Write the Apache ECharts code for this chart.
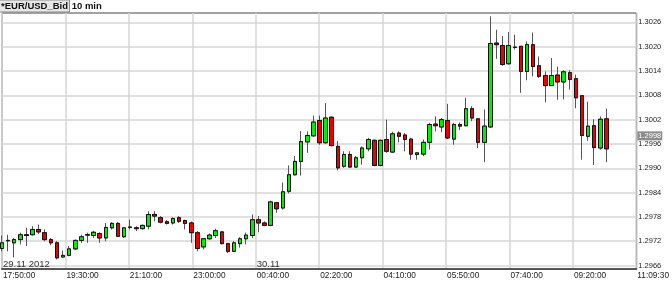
<!DOCTYPE html>
<html>
<head>
<meta charset="utf-8">
<script src="https://cdn.jsdelivr.net/npm/echarts@6/dist/echarts.min.js"></script>
<style>
html,body{margin:0;padding:0;background:#fff;}
#chart{width:672px;height:282px;}
</style>
</head>
<body>
<div id="chart"></div>
<script>
// ---- data (10 min candles, EUR/USD bid) ----
const openValues = [
1.29702,1.29721,1.29716,1.29724,1.29736,1.29736,1.29749,1.29741,1.29724,1.29716,
1.29681,1.29685,1.29701,1.29722,1.29735,1.29734,1.29739,1.29728,1.29753,1.29764,
1.29731,1.29754,1.29753,1.29751,1.29757,1.29786,1.29778,1.29768,1.29765,1.29778,
1.29771,1.29765,1.29741,1.29706,1.29726,1.29734,1.29743,1.29714,1.29695,1.29714,
1.29726,1.29734,1.29773,1.29765,1.29759,1.29815,1.29802,1.29843,1.29884,1.29917,
1.29965,1.29980,1.30018,1.29963,1.30026,1.29954,1.29905,1.29934,1.29903,1.29926,
1.29948,1.29969,1.29907,1.29971,1.29940,1.29987,1.29982,1.29972,1.29934,1.29935,
1.29964,1.30009,1.30002,1.30018,1.29972,1.30008,1.30005,1.30047,1.30022,1.29964,
1.30002,1.30209,1.30203,1.30158,1.30198,1.30201,1.30139,1.30205,1.30153,1.30129,
1.30104,1.30130,1.30113,1.30136,1.30121,1.30079,1.29979,1.30005,1.29950,1.30022];
const closeValues = [
1.29716,1.29722,1.29724,1.29736,1.29734,1.29749,1.29743,1.29724,1.29716,1.29679,
1.29685,1.29701,1.29722,1.29731,1.29736,1.29742,1.29728,1.29754,1.29764,1.29732,
1.29753,1.29755,1.29751,1.29759,1.29786,1.29782,1.29767,1.29764,1.29776,1.29769,
1.29764,1.29741,1.29702,1.29726,1.29735,1.29746,1.29714,1.29695,1.29716,1.29726,
1.29735,1.29773,1.29765,1.29759,1.29817,1.29800,1.29842,1.29884,1.29917,1.29966,
1.29981,1.30014,1.29963,1.30024,1.29956,1.29901,1.29934,1.29903,1.29926,1.29950,
1.29971,1.29907,1.29969,1.29942,1.29985,1.29979,1.29971,1.29935,1.29938,1.29964,
1.30008,1.30005,1.30020,1.29975,1.30008,1.30004,1.30047,1.30024,1.29964,1.30004,
1.30208,1.30205,1.30156,1.30203,1.30199,1.30139,1.30205,1.30151,1.30127,1.30104,
1.30129,1.30113,1.30138,1.30119,1.30074,1.29981,1.30004,1.29951,1.30021,1.29948];
const lowValues = [
1.29695,1.29695,1.29680,1.29712,1.29708,1.29734,1.29738,1.29720,1.29710,1.29675,
1.29679,1.29683,1.29698,1.29716,1.29716,1.29728,1.29716,1.29720,1.29749,1.29731,
1.29728,1.29749,1.29745,1.29749,1.29749,1.29769,1.29764,1.29761,1.29761,1.29765,
1.29749,1.29716,1.29695,1.29700,1.29724,1.29728,1.29712,1.29691,1.29693,1.29704,
1.29712,1.29728,1.29742,1.29757,1.29757,1.29790,1.29798,1.29838,1.29882,1.29882,
1.29938,1.29978,1.29958,1.29961,1.29954,1.29895,1.29901,1.29901,1.29901,1.29909,
1.29942,1.29905,1.29905,1.29938,1.29938,1.29964,1.29942,1.29921,1.29921,1.29930,
1.29946,1.29991,1.29989,1.29972,1.29958,1.29994,1.30004,1.30016,1.29950,1.29915,
1.30000,1.30170,1.30153,1.30156,1.30193,1.30086,1.30117,1.30127,1.30123,1.30063,
1.30104,1.30069,1.30070,1.30094,1.30048,1.29921,1.29968,1.29908,1.29946,1.29915];
const highValues = [
1.29734,1.29736,1.29728,1.29741,1.29753,1.29757,1.29761,1.29749,1.29728,1.29720,
1.29697,1.29708,1.29724,1.29736,1.29741,1.29745,1.29742,1.29765,1.29767,1.29767,
1.29755,1.29773,1.29757,1.29761,1.29794,1.29794,1.29782,1.29772,1.29779,1.29782,
1.29773,1.29769,1.29745,1.29728,1.29739,1.29751,1.29745,1.29716,1.29720,1.29730,
1.29741,1.29786,1.29782,1.29769,1.29820,1.29816,1.29865,1.29907,1.29930,1.29992,
1.29991,1.30030,1.30030,1.30061,1.30028,1.29967,1.29942,1.29942,1.29930,1.29954,
1.29975,1.29971,1.29971,1.30020,1.29990,1.29991,1.29987,1.29975,1.29939,1.29971,
1.30012,1.30028,1.30024,1.30059,1.30012,1.30013,1.30074,1.30053,1.30024,1.30045,
1.30275,1.30242,1.30226,1.30236,1.30230,1.30201,1.30213,1.30235,1.30176,1.30139,
1.30172,1.30151,1.30142,1.30142,1.30131,1.30079,1.30064,1.30021,1.30028,1.30047];
const timeTickLabels = ['17:50:00','19:30:00','21:10:00','23:00:00','00:40:00','02:20:00','04:10:00','05:50:00','07:40:00','09:20:00','11:09:30'];
const dateTickLabels = ['29.11 2012','','','','30.11','','','','','',''];
const priceTicks = [1.2966,1.2972,1.2978,1.2984,1.2990,1.2996,1.3002,1.3008,1.3014,1.3020,1.3026];
const priceMin = 1.296514, priceMax = 1.302832;
const lastPrice = 1.2998;
const titleSymbol = '*EUR/USD_Bid';
const titlePeriod = '10 min';

// ---- chart ----
const TICK_STEP = 10.39;            // bars between vertical grid lines
const X_MAX = TICK_STEP * 10;
const full = openValues.map((o, i) => [i, o, closeValues[i], lowValues[i], highValues[i]]);
const bodies = openValues.map((o, i) => [i, o, closeValues[i], Math.min(o, closeValues[i]), Math.max(o, closeValues[i])]);
const tickIdx = v => Math.round(v / TICK_STEP);
const FONT = 'Liberation Sans';

const chart = echarts.init(document.getElementById('chart'), null, {renderer: 'canvas'});
chart.setOption({
  animation: false,
  backgroundColor: '#ffffff',
  title: {
    left: 0, top: 0,
    padding: 0,
    text: '{a|' + titleSymbol + '}{b| ' + titlePeriod + '}',
    textStyle: {
      rich: {
        a: {fontFamily: FONT, fontSize: 9.5, fontWeight: 'bold', color: '#111', backgroundColor: '#e6e6e6',
            borderColor: '#8a8a8a', borderWidth: 1, padding: [1, 1, 0, 1], lineHeight: 12},
        b: {fontFamily: FONT, fontSize: 9.5, color: '#111', lineHeight: 12}
      }
    }
  },
  grid: {left: 1, top: 13, width: 640, height: 256, show: true, borderColor: '#444', borderWidth: 1},
  xAxis: [{
    type: 'value', min: 0, max: X_MAX, interval: TICK_STEP, position: 'bottom',
    axisLine: {show: true, onZero: false, lineStyle: {color: '#555', width: 2}},
    axisTick: {show: false},
    splitLine: {show: true, lineStyle: {color: '#d6d6d6', width: 1.5}},
    axisLabel: {
      show: true, align: 'left', margin: 3, fontFamily: FONT, fontSize: 8.3, color: '#222',
      padding: [0, 0, 0, 1], showMinLabel: true, showMaxLabel: true,
      formatter: v => timeTickLabels[tickIdx(v)] || ''
    }
  }, {
    type: 'value', min: 0, max: X_MAX, interval: TICK_STEP, position: 'bottom', offset: 0,
    axisLine: {show: false}, axisTick: {show: false}, splitLine: {show: false},
    axisLabel: {
      show: true, inside: true, align: 'left', margin: 0, fontFamily: FONT, fontSize: 9.5, color: '#333',
      padding: [0, 0, 0, 1], formatter: v => dateTickLabels[tickIdx(v)] || ''
    }
  }],
  yAxis: [{
    type: 'value', position: 'right', min: priceMin, max: priceMax,
    axisLine: {show: false},
    axisTick: {show: false, customValues: priceTicks},
    splitLine: {show: true, lineStyle: {color: '#d6d6d6', width: 1.5}},
    axisLabel: {
      customValues: priceTicks,
      margin: 2, fontFamily: FONT, fontSize: 7.5, color: '#222',
      verticalAlign: 'middle', padding: [0, 0, 6, 0],
      formatter: v => v.toFixed(4)
    }
  }, {
    type: 'value', position: 'right', offset: 0, min: priceMin, max: priceMax,
    axisLine: {show: false}, splitLine: {show: false},
    axisTick: {show: false, customValues: [lastPrice]},
    axisLabel: {
      customValues: [lastPrice],
      margin: 1, fontFamily: FONT, fontSize: 7.5, color: '#ffffff',
      backgroundColor: '#8c8c8c', verticalAlign: 'middle', padding: [1, 1, 0, 1],
      formatter: v => v.toFixed(4)
    }
  }],
  series: [{
    type: 'candlestick', name: 'wicks', data: full, encode: {x: 0, y: [1, 2, 3, 4]},
    barWidth: 4, silent: true,
    itemStyle: {color: '#00ee00', color0: '#ee0000', borderColor: '#555', borderColor0: '#555', borderWidth: 1}
  }, {
    type: 'candlestick', name: 'bodies', data: bodies, encode: {x: 0, y: [1, 2, 3, 4]},
    barWidth: 4, silent: true,
    itemStyle: {color: '#00ee00', color0: '#ee0000', borderColor: '#111', borderColor0: '#111', borderWidth: 1}
  }]
});
</script>
</body>
</html>
